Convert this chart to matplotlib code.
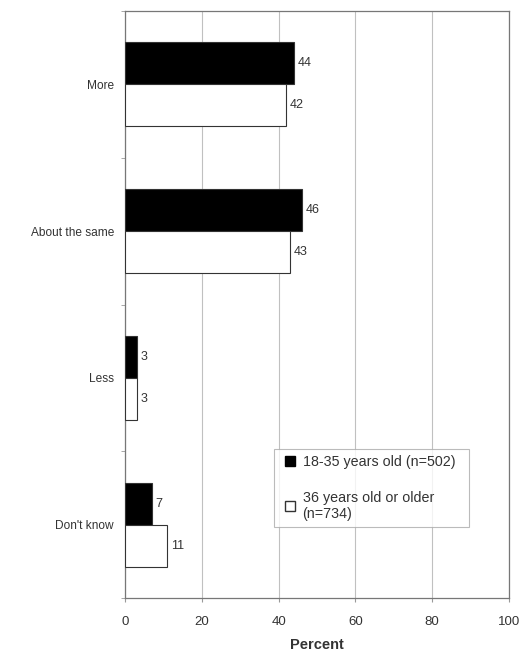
import matplotlib
matplotlib.use("Agg")
import matplotlib.pyplot as plt
import numpy as np
from matplotlib.lines import Line2D

plt.rcParams['font.family'] = ['Liberation Sans', 'DejaVu Sans']

categories = ["More", "About the same", "Less", "Don't know"]
young = [44, 46, 3, 7]
older = [42, 43, 3, 11]
series_labels = ["18-35 years old (n=502)", "36 years old or older\n(n=734)"]
xticks = [0, 20, 40, 60, 80, 100]

fig = plt.figure(figsize=(5.21, 6.51), dpi=100)
ax = fig.add_axes([125/521, 1-598/651, (509-125)/521, (598-11)/651])

y = np.arange(len(categories))
h = 0.286
ax.barh(y - h/2, young, height=h, color='black', edgecolor='#333333', linewidth=0.8, zorder=3)
ax.barh(y + h/2, older, height=h, color='white', edgecolor='#333333', linewidth=0.8, zorder=3)

for yi, v in zip(y, young):
    ax.text(v + 1.0, yi - h/2, str(v), va='center', ha='left', fontsize=9, color='#333333')
for yi, v in zip(y, older):
    ax.text(v + 1.0, yi + h/2, str(v), va='center', ha='left', fontsize=9, color='#333333')

ax.set_ylim(len(categories) - 0.5, -0.5)
ax.set_xlim(0, 100)
ax.set_yticks(y)
ax.set_yticklabels(categories, fontsize=8.6, color='#333333')
ax.set_yticks(np.arange(-0.5, len(categories) + 0.5, 1), minor=True)
ax.tick_params(axis='y', which='major', length=0, pad=8)
ax.tick_params(axis='y', which='minor', length=3, color='#999999')
ax.set_xticks(xticks)
ax.set_xticklabels([str(t) for t in xticks], fontsize=9.5, color='#333333')
ax.tick_params(axis='x', length=3, color='#999999', pad=10)
ax.xaxis.grid(True, color='#c0c0c0', linewidth=0.8, zorder=0)
ax.set_axisbelow(True)
for s in ax.spines.values():
    s.set_color('#777777')
    s.set_linewidth(0.9)
ax.set_xlabel("Percent", fontsize=10.5, fontweight='bold', color='#333333', labelpad=7)

handles = [
    Line2D([], [], marker='s', linestyle='none', markersize=7, markerfacecolor='black', markeredgecolor='black'),
    Line2D([], [], marker='s', linestyle='none', markersize=7, markerfacecolor='white', markeredgecolor='#333333'),
]
leg = ax.legend(handles, [lab + "  " if "\n" not in lab else lab for lab in series_labels],
                loc='upper left',
                bbox_to_anchor=((274-125)/384, 1-(449-11)/587),
                fontsize=10.3, frameon=True, fancybox=False, edgecolor='#aaaaaa',
                handletextpad=0.2, handlelength=1.4, labelspacing=1.55,
                borderpad=0.4, borderaxespad=0)
leg.get_frame().set_linewidth(0.8)
for t in leg.get_texts():
    t.set_color('#333333')

fig.savefig("out.png", dpi=100)
